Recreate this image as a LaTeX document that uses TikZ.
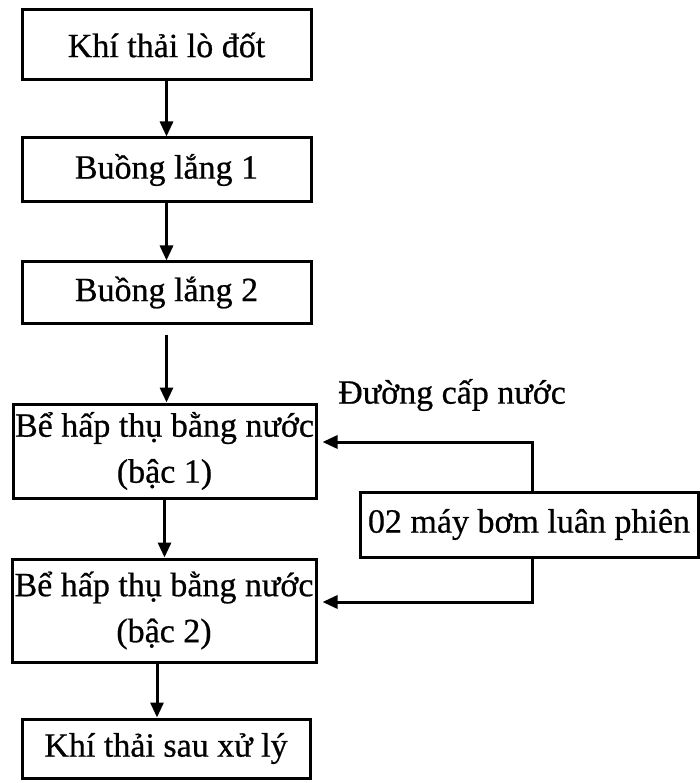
\documentclass[tikz,border=0pt]{standalone}
\usepackage{fontspec}
\setmainfont[FakeBold=0.6]{Liberation Serif}
\usetikzlibrary{arrows.meta,calc}
\tikzset{
  box/.style={draw, line width=3pt, rectangle, inner sep=0pt, align=center,
    font=\fontsize{34}{46}\selectfont},
  arr/.style={line width=3pt, -{Triangle[length=15pt,width=13pt]}},
  lbl/.style={font=\fontsize{34}{46}\selectfont, inner sep=0pt}
}
\begin{document}
\begin{tikzpicture}[x=1pt,y=-1pt]
\useasboundingbox (0,0) rectangle (699,783);
% main process chain
\node[box, minimum width=289pt, minimum height=70pt] (b1) at (166.5,45) {Khí thải lò đốt};
\node[box, minimum width=289pt, minimum height=64pt] (b2) at (166.5,170) {Buồng lắng 1};
\node[box, minimum width=289pt, minimum height=61pt] (b3) at (166.5,292.5) {Buồng lắng 2};
\node[box, minimum width=303pt, minimum height=94pt] (b4) at (164.5,451) {Bể hấp thụ bằng nước\\(bậc 1)};
\node[box, minimum width=304pt, minimum height=103pt] (b5) at (164,610.5) {Bể hấp thụ bằng nước\\(bậc 2)};
\node[box, minimum width=288pt, minimum height=59pt] (b6) at (166,748.5) {Khí thải sau xử lý};
% water supply pumps
\node[box, minimum width=338pt, minimum height=65pt] (pump) at (529,524.5) {02 máy bơm luân phiên};
\node[lbl, anchor=west] (wl) at (338,395) {Đường cấp nước};
% gas flow
\draw[arr] (b1) -- (b2);
\draw[arr] (b2) -- (b3);
\draw[arr] ([yshift=-10pt]b3.south) -- (b4.north -| b3.south);
\draw[arr] (b4.south) -- (b5.north -| b4.south);
\draw[arr] ([xshift=-7pt]b5.south) -- ([xshift=-7pt]b5.south |- b6.north);
% water lines
\draw[arr, shorten >=5pt] ([xshift=3pt]pump.north) |- ([yshift=9pt]b4.east);
\draw[arr, shorten >=5pt] ([xshift=3pt]pump.south) |- ([yshift=8.5pt]b5.east);
\end{tikzpicture}
\end{document}
